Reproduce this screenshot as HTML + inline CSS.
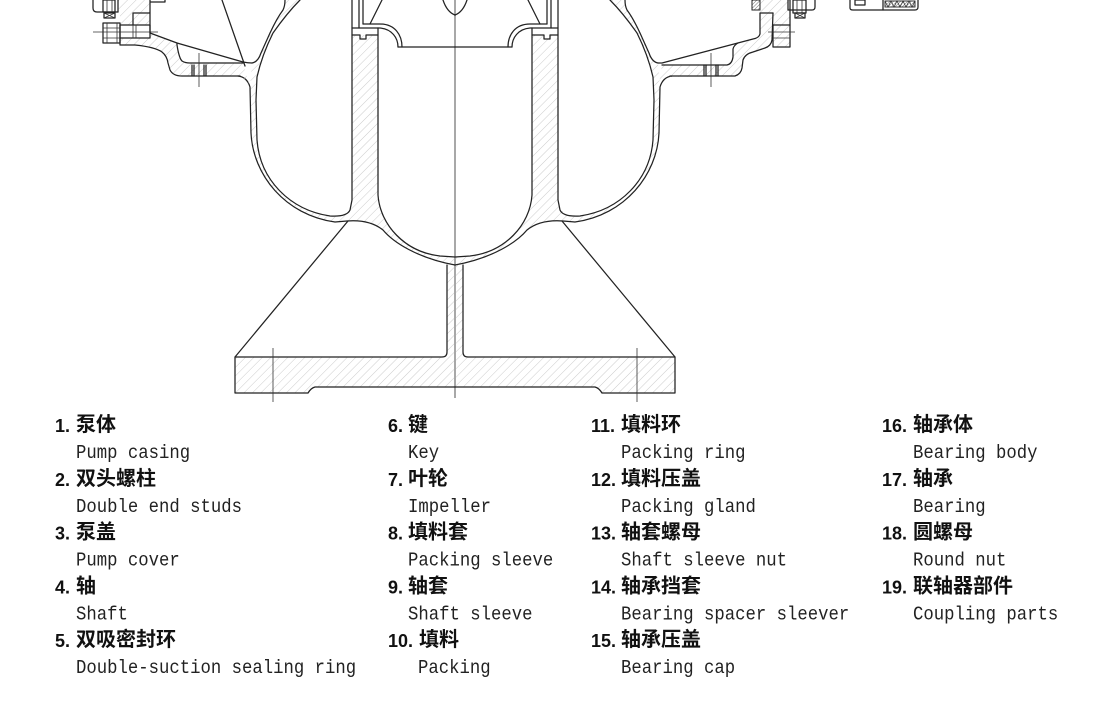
<!DOCTYPE html>
<html>
<head>
<meta charset="utf-8">
<style>
html,body{margin:0;padding:0;background:#fff;}
svg{display:block;}
.n{font-family:"Liberation Sans","Noto Sans CJK SC",sans-serif;font-size:18px;font-weight:bold;fill:#111;}
.c{font-family:"Liberation Sans","Noto Sans CJK SC",sans-serif;font-size:20px;font-weight:bold;fill:#111;}
.e{font-family:"Liberation Mono",monospace;font-size:17.3px;fill:#222;}
.k{fill:none;stroke:#222;stroke-width:1.25;stroke-linejoin:round;stroke-linecap:round;}
.t{fill:none;stroke:#333;stroke-width:0.8;}
</style>
</head>
<body>
<svg width="1119" height="702" viewBox="0 0 1119 702" xmlns="http://www.w3.org/2000/svg">
<defs>
<pattern id="h" patternUnits="userSpaceOnUse" width="6" height="6" patternTransform="rotate(45)">
<line x1="0" y1="0" x2="0" y2="6" stroke="#c6c6c6" stroke-width="0.9"/>
</pattern>
<pattern id="hm" patternUnits="userSpaceOnUse" width="6" height="6" patternTransform="rotate(-45)">
<line x1="0" y1="0" x2="0" y2="6" stroke="#c6c6c6" stroke-width="0.9"/>
</pattern>
<pattern id="hd" patternUnits="userSpaceOnUse" width="2.5" height="2.5" patternTransform="rotate(45)">
<line x1="0" y1="0" x2="0" y2="2.5" stroke="#555" stroke-width="0.8"/>
</pattern>
<g id="hhalf">
<path d="M285,0 Q285,6 283,10 Q277,18 270,33 L261,53 Q258,62 252,63 L250,87 L251,133 C253,175 285,215 335,222 L347,221 C360,220 373,222 383,230 C393,242 417,258 455,265 L455,257 L440,256 C405,252 380,225 378,195 L378,35 L352,35 L352,200 Q350,216 333,216 C290,210 260,180 257,140 L256,100 L257,77 Q262,55 273,33 Q287,13 300,0 Z"/>
<path d="M235,357 L442,357 Q447,357 447,352 L447,265 L455,265 L455,387 L315,387 Q311,388 308,393 L235,393 Z"/>
</g>
<g id="half">
<path class="k" d="M285,0 Q285,6 283,10 Q277,18 270,33 L261,53 Q258,62 252,63"/>
<path class="k" d="M238,76 Q247,77 250,87 L251,133 C253,175 285,215 335,222 L347,221 C360,220 373,222 383,230 C393,242 417,258 455,265"/>
<path class="k" d="M300,0 Q287,13 273,33 Q262,55 257,77 L256,100 L257,140 C260,180 290,210 330,216 Q347,217 350,210 L352,200 L352,0"/>
<path class="k" d="M378,28 L378,195 C380,225 405,252 440,256 L455,257"/>
<path class="k" d="M352,28 L378,28 M352,35 L360,35 L360,39 L366,39 L366,35 L378,35"/>
<path class="k" d="M359,0 L359,28 M363,0 L363,24"/>
<path class="k" d="M363,24 L380,24 C395,24 402,35 402,47"/>
<path class="k" d="M378,28 L380,28 C392,29 398,38 398,47"/>
<path class="k" d="M398,47 L455,47"/>
<path class="k" d="M382,0 Q376,12 370,24"/>
<path class="k" d="M443,0 Q447,12 455,15"/>
<path class="k" d="M235,357 L348,221"/>
<path class="k" d="M447,265 L447,352 Q447,357 442,357 L235,357 L235,393 L308,393 Q311,388 315,387 L455,387"/>
<path class="t" d="M273,348 L273,402"/>
</g>
</defs>

<use href="#hhalf" fill="url(#h)"/>
<use href="#hhalf" fill="url(#hm)" transform="translate(910,0) scale(-1,1)"/>

<!-- centre axis -->
<line x1="455" y1="0" x2="455" y2="398" stroke="#a8a8a8" stroke-width="2"/>

<use href="#half"/>
<use href="#half" transform="translate(910,0) scale(-1,1)"/>

<!-- LEFT ARM -->
<path fill="url(#h)" d="M135,45 L177,45 Q179,58 182,61 Q185,63 190,63 L243,63 L250,87 Q247,77 233,76 L182,76 Q173,76 170,70 L168,63 Q167,56 162,52 Q155,47 135,45 Z"/>
<path fill="url(#h)" d="M118,0 L150,0 L150,25 L120,25 L120,12 L118,12 Z M120,38 L150,38 L150,33 L177,43 L177,45 L135,45 L120,45 Z"/>
<path class="k" d="M150,33 L177,43 L243,62 Q248,63 252,63"/>
<path class="k" d="M177,43 L177,45 Q179,58 182,61 Q185,63 190,63 L243,63"/>
<path class="k" d="M120,38 L120,45 L135,45 Q155,47 162,52 Q167,56 168,63 L170,70 Q173,76 182,76 L240,76"/>
<path class="k" d="M192,65 L192,76 M194,65 L194,76 M204,65 L204,76 M206,65 L206,76"/>
<path class="t" d="M199,53 L199,87"/>
<path class="k" stroke-width="1" d="M222,0 L245,66"/>
<!-- left top parts -->
<path class="k" d="M93,0 L93,8 Q93,12 97,12 L118,12"/>
<rect class="k" x="103" y="0" width="12" height="12"/>
<path class="t" d="M107,0 L107,12 M112,0 L112,12"/>
<rect class="k" x="104" y="13" width="11" height="5"/>
<path class="t" d="M104,13 L115,18 M115,13 L104,18"/>
<path class="k" d="M118,0 L118,12 M150,0 L150,33 M133,13 L150,13 M133,13 L133,25 M150,2 L165,2 L165,0"/>
<rect class="k" x="120" y="25" width="30" height="13" fill="#fff"/>
<path class="t" d="M133,25 L133,38 M136,25 L136,38"/>
<rect class="k" x="103" y="23" width="17" height="20" fill="#fff"/>
<path class="t" d="M107,23 L107,43 M117,23 L117,43 M103,28 L120,28 M103,38 L120,38"/>
<path class="t" d="M93,32 L158,32"/>

<!-- RIGHT ARM -->
<path fill="url(#h)" d="M662,65 L727,65 Q732,64 733,57 L733,49 Q734,45 738,43 L753,39 Q759,38 760,34 L760,13 L773,13 L772,40 Q771,46 765,48 L753,52 Q745,54 743,60 L742,68 Q741,74 735,76 L670,77 Q660,80 658,90 Z"/>
<path fill="url(#h)" d="M760,0 L790,0 L790,47 L773,47 L773,13 L760,13 Z"/>
<path class="k" d="M658,63 L662,63 L753,39 Q759,38 760,34 L760,13 L773,13"/>
<path class="k" d="M662,65 L727,65 Q732,64 733,57 L733,49 Q734,45 738,43"/>
<path class="k" d="M670,76 L735,76 Q741,74 742,68 L743,60 Q745,54 753,52 L765,48 Q771,46 772,40 L773,13"/>
<path class="k" d="M704,65 L704,76 M706,65 L706,76 M716,65 L716,76 M718,65 L718,76"/>
<path class="t" d="M711,53 L711,87"/>
<rect class="k" x="773" y="25" width="17" height="22"/>
<path class="t" d="M773,38 L790,38 M768,32 L795,32"/>
<path class="k" d="M790,0 L790,25"/>
<rect x="752" y="0" width="8" height="10" fill="url(#hd)" stroke="#222" stroke-width="1"/>
<path class="k" d="M788,0 L788,10 L812,10 Q815,10 815,7 L815,0"/>
<rect class="k" x="793" y="0" width="13" height="13" fill="#fff"/>
<path class="t" d="M797,0 L797,13 M802,0 L802,13"/>
<rect class="k" x="795" y="13" width="10" height="5"/>
<path class="t" d="M795,13 L805,18 M805,13 L795,18"/>
<!-- right box -->
<path class="k" d="M850,0 L850,8 Q850,10 853,10 L915,10 Q918,10 918,7 L918,0"/>
<path class="k" d="M883,0 L883,10"/>
<rect class="k" x="855" y="0" width="10" height="5"/>
<rect x="885" y="1" width="30" height="6" fill="url(#hd)" stroke="#222" stroke-width="0.9"/>
<path class="t" d="M885,1 L888,7 L891,1 L894,7 L897,1 L900,7 L903,1 L906,7 L909,1 L912,7 L915,1"/>

<!-- LEGEND -->
<g>
<text class="n" x="55" y="432">1.</text><text class="c" x="76" y="431">泵体</text>
<g transform="translate(0,458) scale(1,1.1)"><text class="e" x="76" y="0">Pump casing</text></g>
<text class="n" x="55" y="485.75">2.</text><text class="c" x="76" y="484.75">双头螺柱</text>
<g transform="translate(0,511.75) scale(1,1.1)"><text class="e" x="76" y="0">Double end studs</text></g>
<text class="n" x="55" y="539.5">3.</text><text class="c" x="76" y="538.5">泵盖</text>
<g transform="translate(0,565.5) scale(1,1.1)"><text class="e" x="76" y="0">Pump cover</text></g>
<text class="n" x="55" y="593.25">4.</text><text class="c" x="76" y="592.25">轴</text>
<g transform="translate(0,619.25) scale(1,1.1)"><text class="e" x="76" y="0">Shaft</text></g>
<text class="n" x="55" y="647">5.</text><text class="c" x="76" y="646">双吸密封环</text>
<g transform="translate(0,673) scale(1,1.1)"><text class="e" x="76" y="0">Double-suction sealing ring</text></g>

<text class="n" x="388" y="432">6.</text><text class="c" x="408" y="431">键</text>
<g transform="translate(0,458) scale(1,1.1)"><text class="e" x="408" y="0">Key</text></g>
<text class="n" x="388" y="485.75">7.</text><text class="c" x="408" y="484.75">叶轮</text>
<g transform="translate(0,511.75) scale(1,1.1)"><text class="e" x="408" y="0">Impeller</text></g>
<text class="n" x="388" y="539.5">8.</text><text class="c" x="408" y="538.5">填料套</text>
<g transform="translate(0,565.5) scale(1,1.1)"><text class="e" x="408" y="0">Packing sleeve</text></g>
<text class="n" x="388" y="593.25">9.</text><text class="c" x="408" y="592.25">轴套</text>
<g transform="translate(0,619.25) scale(1,1.1)"><text class="e" x="408" y="0">Shaft sleeve</text></g>
<text class="n" x="388" y="647">10.</text><text class="c" x="419" y="646">填料</text>
<g transform="translate(0,673) scale(1,1.1)"><text class="e" x="418" y="0">Packing</text></g>

<text class="n" x="591" y="432">11.</text><text class="c" x="621" y="431">填料环</text>
<g transform="translate(0,458) scale(1,1.1)"><text class="e" x="621" y="0">Packing ring</text></g>
<text class="n" x="591" y="485.75">12.</text><text class="c" x="621" y="484.75">填料压盖</text>
<g transform="translate(0,511.75) scale(1,1.1)"><text class="e" x="621" y="0">Packing gland</text></g>
<text class="n" x="591" y="539.5">13.</text><text class="c" x="621" y="538.5">轴套螺母</text>
<g transform="translate(0,565.5) scale(1,1.1)"><text class="e" x="621" y="0">Shaft sleeve nut</text></g>
<text class="n" x="591" y="593.25">14.</text><text class="c" x="621" y="592.25">轴承挡套</text>
<g transform="translate(0,619.25) scale(1,1.1)"><text class="e" x="621" y="0">Bearing spacer sleever</text></g>
<text class="n" x="591" y="647">15.</text><text class="c" x="621" y="646">轴承压盖</text>
<g transform="translate(0,673) scale(1,1.1)"><text class="e" x="621" y="0">Bearing cap</text></g>

<text class="n" x="882" y="432">16.</text><text class="c" x="913" y="431">轴承体</text>
<g transform="translate(0,458) scale(1,1.1)"><text class="e" x="913" y="0">Bearing body</text></g>
<text class="n" x="882" y="485.75">17.</text><text class="c" x="913" y="484.75">轴承</text>
<g transform="translate(0,511.75) scale(1,1.1)"><text class="e" x="913" y="0">Bearing</text></g>
<text class="n" x="882" y="539.5">18.</text><text class="c" x="913" y="538.5">圆螺母</text>
<g transform="translate(0,565.5) scale(1,1.1)"><text class="e" x="913" y="0">Round nut</text></g>
<text class="n" x="882" y="593.25">19.</text><text class="c" x="913" y="592.25">联轴器部件</text>
<g transform="translate(0,619.25) scale(1,1.1)"><text class="e" x="913" y="0">Coupling parts</text></g>
</g>
</svg>
</body>
</html>
